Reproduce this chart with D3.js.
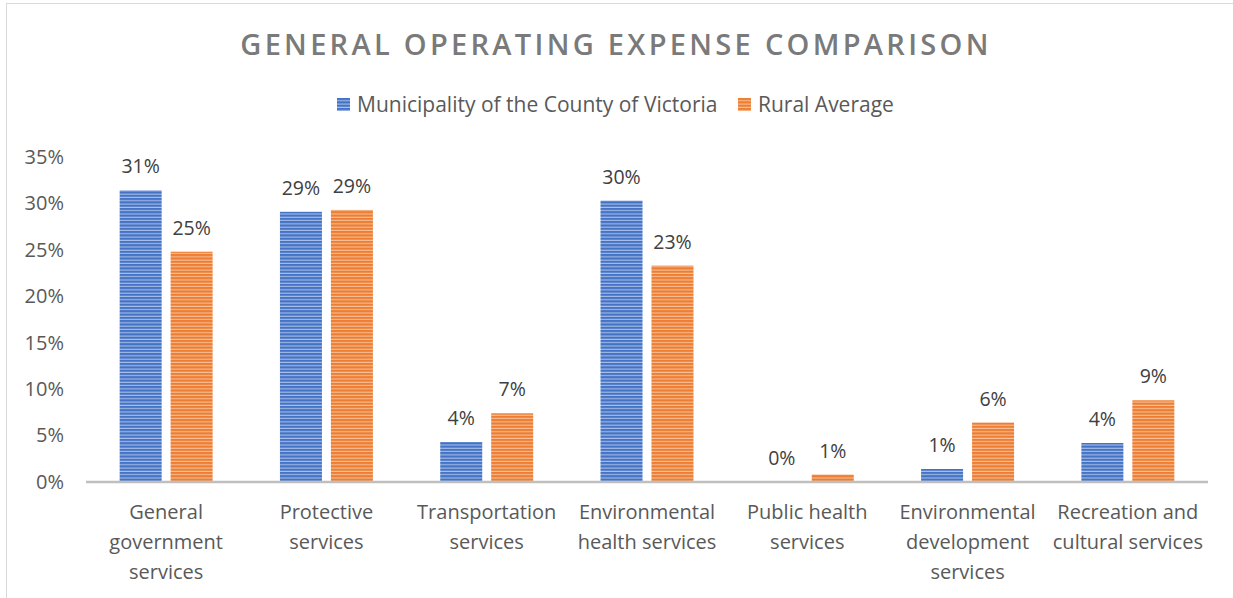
<!DOCTYPE html>
<html>
<head>
<meta charset="utf-8">
<script src="https://cdn.jsdelivr.net/npm/d3@7"></script>
<style>
  body { margin: 0; background: #fff; }
  svg { display: block; font-family: "Open Sans", sans-serif; }
</style>
</head>
<body>
<div id="chart"></div>
<script>
var categories = [
  ["General", "government", "services"],
  ["Protective", "services"],
  ["Transportation", "services"],
  ["Environmental", "health services"],
  ["Public health", "services"],
  ["Environmental", "development", "services"],
  ["Recreation and", "cultural services"]
];
var seriesNames = ["Municipality of the County of Victoria", "Rural Average"];
var victoria = [31.4, 29.1, 4.3, 30.3, 0, 1.4, 4.2];
var rural = [24.8, 29.3, 7.4, 23.3, 0.8, 6.4, 8.8];
var yTicks = [0, 5, 10, 15, 20, 25, 30, 35];
var colors = ["#4472C4", "#ED7D31"];
var stripeColors = ["#a8bfe9", "#f7c09a"];

var width = 1233, height = 598;

var svg = d3.select("#chart")
  .append("svg")
  .attr("width", width)
  .attr("height", height);

// stripe patterns
var defs = svg.append("defs");
colors.forEach(function (c, i) {
  var p = defs.append("pattern")
    .attr("id", "stripe" + i)
    .attr("patternUnits", "userSpaceOnUse")
    .attr("width", 6)
    .attr("height", 3.3);
  p.append("rect").attr("width", 6).attr("height", 3.3).attr("fill", c);
  p.append("rect").attr("y", 2.2).attr("width", 6).attr("height", 1.1).attr("fill", stripeColors[i]);
});

// chart frame
svg.append("rect")
  .attr("x", 6.5)
  .attr("y", 3.5)
  .attr("width", 1240)
  .attr("height", 620)
  .attr("fill", "none")
  .attr("stroke", "#d9d9d9")
  .attr("stroke-width", 1);

var catKeys = categories.map(function (d) { return d.join(" "); });

var x0 = d3.scaleBand()
  .domain(catKeys)
  .range([86, 1208])
  .paddingInner(0.42)
  .paddingOuter(0.21);

var x1 = d3.scaleBand()
  .domain([0, 1])
  .range([0, x0.bandwidth()])
  .paddingInner(0.176);

var y = d3.scaleLinear()
  .domain([0, 35])
  .range([482, 157]);

// title
svg.append("text")
  .attr("x", 616)
  .attr("y", 55)
  .attr("text-anchor", "middle")
  .attr("font-size", "29px")
  .attr("font-weight", 600)
  .attr("letter-spacing", "3.3px")
  .attr("fill", "#7a7a7a")
  .text("GENERAL OPERATING EXPENSE COMPARISON");

// legend
var legendX = [337, 738];
var legend = svg.selectAll(".legend")
  .data(seriesNames)
  .enter().append("g")
  .attr("class", "legend")
  .attr("transform", function (d, i) { return "translate(" + legendX[i] + ",98)"; });

legend.append("rect")
  .attr("width", 13)
  .attr("height", 13)
  .attr("fill", function (d, i) { return "url(#stripe" + i + ")"; });

legend.append("text")
  .attr("x", 20)
  .attr("y", 6.5)
  .attr("dy", "0.35em")
  .attr("font-size", "21px")
  .attr("fill", "#595959")
  .text(function (d) { return d; });

// y axis
var yAxis = svg.append("g")
  .attr("transform", "translate(64,0)")
  .call(d3.axisLeft(y).tickValues(yTicks).tickSize(0).tickPadding(0)
    .tickFormat(function (d) { return d + "%"; }));
yAxis.select(".domain").remove();
yAxis.selectAll("text")
  .attr("font-size", "20px")
  .attr("font-family", "Open Sans, sans-serif")
  .attr("fill", "#595959");

// bars
var series = [victoria, rural];
var rows = [];
series.forEach(function (vals, s) {
  vals.forEach(function (v, i) {
    rows.push({ s: s, cat: catKeys[i], v: v });
  });
});

svg.selectAll(".bar")
  .data(rows)
  .enter().append("rect")
  .attr("class", "bar")
  .attr("x", function (d) { return x0(d.cat) + x1(d.s); })
  .attr("y", function (d) { return y(d.v); })
  .attr("width", x1.bandwidth())
  .attr("height", function (d) { return y(0) - y(d.v); })
  .attr("fill", function (d) { return "url(#stripe" + d.s + ")"; });

// value labels
svg.selectAll(".vlabel")
  .data(rows)
  .enter().append("text")
  .attr("class", "vlabel")
  .attr("x", function (d) { return x0(d.cat) + x1(d.s) + x1.bandwidth() / 2; })
  .attr("y", function (d) { return y(d.v) - 17; })
  .attr("text-anchor", "middle")
  .attr("font-size", "19.5px")
  .attr("fill", "#404040")
  .text(function (d) { return Math.round(d.v) + "%"; });

// baseline
svg.append("line")
  .attr("x1", 86)
  .attr("x2", 1208)
  .attr("y1", y(0))
  .attr("y2", y(0))
  .attr("stroke", "#bfbfbf")
  .attr("stroke-width", 2.5);

// category labels
var catLabels = svg.selectAll(".cat")
  .data(categories)
  .enter().append("text")
  .attr("class", "cat")
  .attr("text-anchor", "middle")
  .attr("font-size", "20px")
  .attr("fill", "#595959");

catLabels.selectAll("tspan")
  .data(function (d, i) { return d.map(function (line) { return { line: line, cat: catKeys[i] }; }); })
  .enter().append("tspan")
  .attr("x", function (d) { return x0(d.cat) + x0.bandwidth() / 2; })
  .attr("y", function (d, j) { return 519 + j * 30; })
  .text(function (d) { return d.line; });
</script>
</body>
</html>
